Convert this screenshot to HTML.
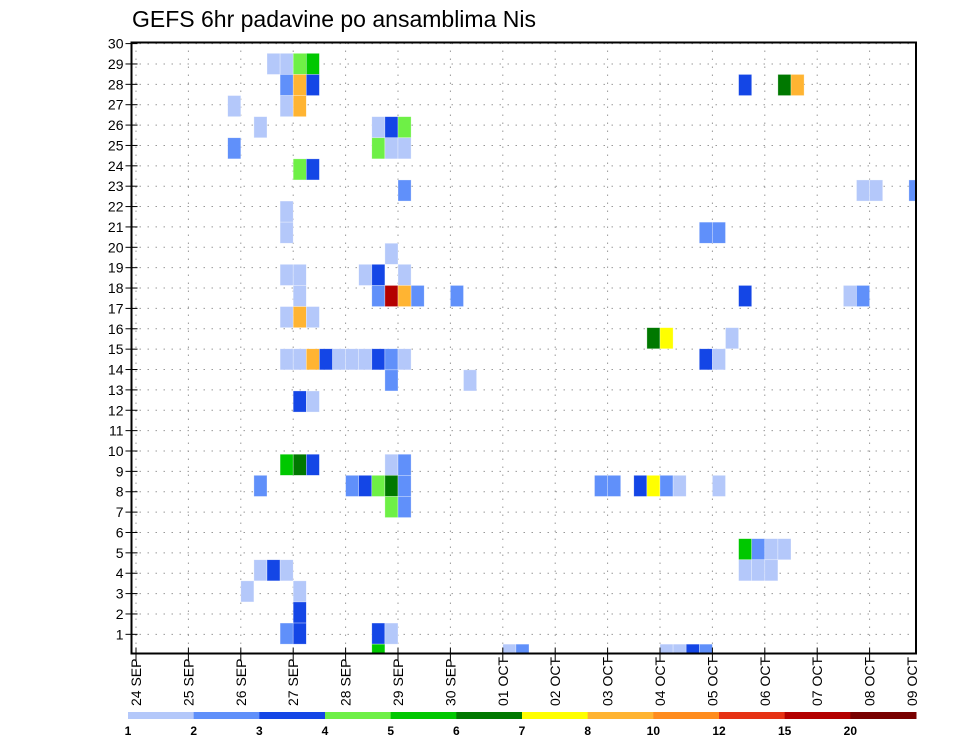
<!DOCTYPE html>
<html><head><meta charset="utf-8">
<style>
html,body{margin:0;padding:0;background:#fff;}
svg{display:block;font-family:"Liberation Sans","DejaVu Sans",sans-serif;}
</style></head>
<body>
<svg id="chart" width="960" height="742" viewBox="0 0 960 742" xmlns="http://www.w3.org/2000/svg">
<text x="132" y="27" font-size="23" fill="#000">GEFS 6hr padavine po ansamblima Nis</text>
<g id="grid"></g>
<g id="cells"></g>
<g id="axes"></g>
<g id="colorbar"></g>
</svg>
<script>
// ---- data ----
const dayLabels = ["24 SEP","25 SEP","26 SEP","27 SEP","28 SEP","29 SEP","30 SEP","01 OCT","02 OCT","03 OCT","04 OCT","05 OCT","06 OCT","07 OCT","08 OCT","09 OCT"];
const yTicks = [1,2,3,4,5,6,7,8,9,10,11,12,13,14,15,16,17,18,19,20,21,22,23,24,25,26,27,28,29,30];
const levelLabels = ["1","2","3","4","5","6","7","8","10","12","15","20"];
const levelColors = ["#b4c8fa","#6090fa","#1446e6","#6ef046","#00c800","#007800","#ffff00","#ffb432","#ff8c1e","#e63214","#b40000","#780000"];
// cells: 6-hour step index, ensemble member, precipitation category (1..12)
const cellStep   = [10,11,12,13, 11,12,13,46,49,50, 7,11,12, 9,18,19,20, 7,18,19,20, 12,13, 20,55,56,59, 11, 11,43,44, 19, 11,12,17,18,20, 12,18,19,20,21,24,46,54,55, 11,12,13, 39,40,45, 11,12,13,14,15,16,17,18,19,20,43,44, 19,25, 12,13, 11,12,13,19,20, 9,16,17,18,19,20,35,36,38,39,40,41,44, 19,20, 46,47,48,49, 9,10,11,46,47,48, 8,12, 12, 11,12,18,19, 18,28,29,40,41,42,43];
const cellMember = [28,28,28,28, 27,27,27,27,27,27, 26,26,26, 25,25,25,25, 24,24,24,24, 23,23, 22,22,22,22, 21, 20,20,20, 19, 18,18,18,18,18, 17,17,17,17,17,17,17,17,17, 16,16,16, 15,15,15, 14,14,14,14,14,14,14,14,14,14,14,14, 13,13, 12,12, 9,9,9,9,9, 8,8,8,8,8,8,8,8,8,8,8,8,8, 7,7, 5,5,5,5, 4,4,4,4,4,4, 3,3, 2, 1,1,1,1, 0,0,0,0,0,0,0];
const cellCat    = [1,1,4,5, 2,8,3,3,6,8, 1,1,8, 1,1,3,4, 2,4,1,1, 4,3, 2,1,1,2, 1, 1,2,2, 1, 1,1,1,3,1, 1,2,11,8,2,2,3,1,2, 1,8,1, 6,7,1, 1,1,8,3,1,1,1,3,2,1,3,1, 2,1, 3,1, 5,6,3,1,2, 2,2,3,4,6,2,2,2,3,7,2,1,1, 4,2, 5,2,1,1, 1,3,1,1,1,1, 1,1, 3, 2,3,3,1, 5,1,2,1,1,3,2];

// ---- scales ----
const L=131.5, R=916, T=42.5, B=653.5;
const x0=136, dayW=52.4, stepW=dayW/4;
const xDay = d => x0 + d*dayW;
const xStep = i => x0 + i*stepW;
const yTick = v => 654.7 - v*20.37;
const cellH = 21.1;
const yCell = k => 654.7 - k*cellH;
const NS="http://www.w3.org/2000/svg";
function mk(tag, attrs, parent){const e=document.createElementNS(NS,tag);for(const k in attrs)e.setAttribute(k,attrs[k]);parent.appendChild(e);return e;}

const grid=document.getElementById('grid'), cells=document.getElementById('cells'), axes=document.getElementById('axes'), cb=document.getElementById('colorbar');

// grid lines
yTicks.forEach(v=>{
  const y=yTick(v);
  const g=mk('line',{x1:L,x2:R,y1:y,y2:y,stroke:'#999','stroke-width':1,'stroke-dasharray':'1.5,6.5'},grid);
  
  
});
dayLabels.forEach((s,d)=>{
  const x=xDay(d); if(x>R) return;
  const g=mk('line',{x1:x,x2:x,y1:T,y2:B,stroke:'#999','stroke-width':1,'stroke-dasharray':'1.5,6.5'},grid);
  
  
});

// cells
const clip=mk('clipPath',{id:'plotclip'},document.getElementById('chart'));
mk('rect',{x:L,y:T,width:R-L,height:B-T},clip);
cells.setAttribute('clip-path','url(#plotclip)');
for(let n=0;n<cellStep.length;n++){
  const x=xStep(cellStep[n]), yc=yCell(cellMember[n]);
  const r=mk('rect',{x:x,y:yc-cellH/2,width:stepW,height:cellH,fill:levelColors[cellCat[n]-1],stroke:'#fff','stroke-opacity':0.5,'stroke-width':0.6},cells);
  
  
}

// frame
const fr=mk('rect',{x:L,y:T,width:R-L,height:B-T,fill:'none',stroke:'#000','stroke-width':2},axes);



// y ticks & labels
yTicks.forEach(v=>{
  const y=yTick(v);
  mk('line',{x1:L-6,x2:L+6,y1:y,y2:y,stroke:'#000','stroke-width':1},axes);
  const t=mk('text',{x:L-8,y:y+5,'text-anchor':'end','font-size':14,fill:'#000'},axes);
  t.textContent=v;
  
  
});
// x ticks & labels
dayLabels.forEach((s,d)=>{
  let x=xDay(d);
  if(x<=R) mk('line',{x1:x,x2:x,y1:B-6,y2:B+8,stroke:'#000','stroke-width':1},axes);
  if(x>R) x=912;
  const t=mk('text',{x:0,y:0,transform:`translate(${x+5},706) rotate(-90)`,'font-size':14,fill:'#000'},axes);
  t.textContent=s;
  
  
});

// colorbar
const cbL=128, cbR=916, segW=(cbR-cbL)/levelColors.length;
levelColors.forEach((c,i)=>{
  const r=mk('rect',{x:cbL+i*segW,y:712,width:segW+0.5,height:7,fill:c},cb);
  
  
  const t=mk('text',{x:cbL+i*segW,y:735,'text-anchor':'middle','font-size':12,'font-weight':'bold',fill:'#000'},cb);
  t.textContent=levelLabels[i];
  
  
});
</script>
</body></html>
